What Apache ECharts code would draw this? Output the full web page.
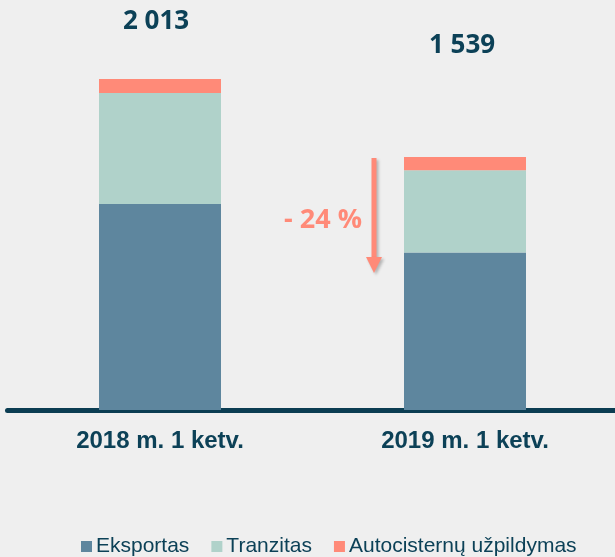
<!DOCTYPE html>
<html>
<head>
<meta charset="utf-8">
<script src="https://cdn.jsdelivr.net/npm/echarts@6/dist/echarts.min.js"></script>
<style>
html,body{margin:0;padding:0;background:#efefef;}
#c{width:615px;height:557px;}
</style>
</head>
<body>
<div id="c"></div>
<script>
var categories = ['2018 m. 1 ketv.', '2019 m. 1 ketv.'];
var seriesNames = ['Eksportas', 'Tranzitas', 'Autocisternų užpildymas'];
var eksportas = [1253, 958];
var tranzitas = [675, 500];
var autocisternu = [85, 81];
var totals = ['2 013', '1 539'];
var changeLabel = '- 24 %';

var colors = ['#5e869e', '#b0d2ca', '#ff8a78'];
var dark = '#0c4157';

var chart = echarts.init(document.getElementById('c'), null, {renderer: 'canvas'});

var labelOffsets = [[-4, -44], [-3, -98]];
var topData = autocisternu.map(function (v, i) {
  return {value: v, label: {offset: labelOffsets[i]}};
});

var option = {
  backgroundColor: '#efefef',
  animation: false,
  grid: {left: 7.5, width: 610, top: 10, bottom: 147, containLabel: false, outerBoundsMode: 'none'},
  legend: {
    left: 81, top: 536, padding: 0,
    itemWidth: 11, itemHeight: 11, itemGap: 22,
    icon: 'rect',
    textStyle: {fontFamily: 'Liberation Sans, Arial', fontSize: 21, color: dark, padding: [0,0,0,-1]},
    data: seriesNames
  },
  xAxis: {
    type: 'category',
    data: categories,
    offset: 2.5,
    axisLine: {lineStyle: {color: '#0b3d52', width: 5}},
    axisTick: {show: false},
    axisLabel: {fontFamily: 'Liberation Sans, Arial', fontWeight: 'bold', fontSize: 24, color: dark, margin: 17}
  },
  yAxis: {
    type: 'value', min: 0, max: 2433, show: false, splitLine: {show: false}
  },
  series: [
    {name: seriesNames[0], type: 'bar', stack: 't', data: eksportas, barWidth: 122, itemStyle: {color: colors[0]}},
    {name: seriesNames[1], type: 'bar', stack: 't', data: tranzitas, barWidth: 122, itemStyle: {color: colors[1]}},
    {name: seriesNames[2], type: 'bar', stack: 't', data: topData, barWidth: 122, itemStyle: {color: colors[2]},
     label: {show: true, position: 'top', distance: 0,
       formatter: function (p) { return totals[p.dataIndex]; },
       fontFamily: 'Open Sans', fontWeight: 'bold', fontSize: 26, color: dark}}
  ]
};
chart.setOption(option);

// arrow annotation, placed relative to second bar
var total2 = eksportas[1] + tranzitas[1] + autocisternu[1];
var pTop = chart.convertToPixel({xAxisIndex: 0, yAxisIndex: 0}, [1, total2]);
var ax = pTop[0] - 91;
var ay = pTop[1] + 1;
var len = 115;
var arrowColor = '#ff8a78';
var shadow = {shadowBlur: 3, shadowOffsetX: 2, shadowOffsetY: 2, shadowColor: 'rgba(0,0,0,0.25)'};
chart.setOption({
  graphic: [
    {type: 'rect', shape: {x: ax - 2.5, y: ay, width: 5, height: len - 14},
     style: Object.assign({fill: arrowColor}, shadow), z: 10},
    {type: 'polygon', shape: {points: [[ax - 8, ay + len - 16], [ax + 8, ay + len - 16], [ax, ay + len]]},
     style: Object.assign({fill: arrowColor}, shadow), z: 10},
    {type: 'text', x: ax - 51, y: ay + 62,
     style: {text: changeLabel, fill: arrowColor, font: 'bold 27px "Open Sans"', textAlign: 'center', textVerticalAlign: 'middle'}, z: 10}
  ]
});
</script>
</body>
</html>
